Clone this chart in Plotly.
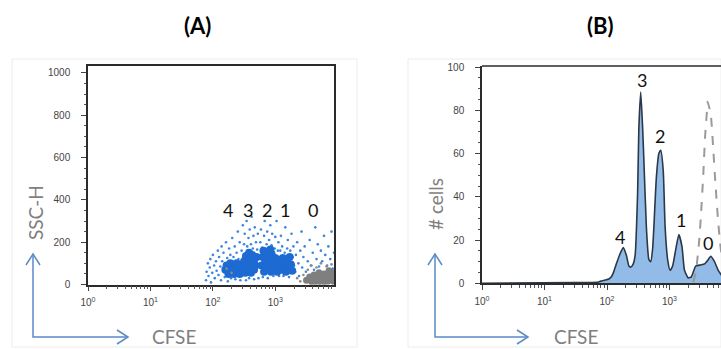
import numpy as np
import plotly.graph_objects as go

W, H = 721, 349

# ---------------- Panel A: CFSE vs SSC-H dot plot ----------------
# CFSE given in log10 decades, SSC-H in linear units
a_blue_core_cfse_log10 = [2.20, 2.22, 2.25, 2.28, 2.28, 2.31, 2.33, 2.36, 2.38, 2.40, 2.42, 2.45, 2.47, 2.25, 2.34, 2.43,
                          2.50, 2.53, 2.53, 2.56, 2.56, 2.58, 2.60, 2.60, 2.63, 2.63, 2.66, 2.66, 2.68, 2.70, 2.52, 2.61,
                          2.78, 2.80, 2.82, 2.84, 2.85, 2.87, 2.89, 2.91, 2.93, 2.94, 2.96, 2.98, 3.00, 3.02, 2.81, 2.92, 3.03,
                          3.08, 3.10, 3.12, 3.14, 3.17, 3.18, 3.21, 3.23, 3.25, 3.27]
a_blue_core_ssc = [70, 90, 60, 80, 100, 65, 88, 75, 100, 60, 85, 70, 95, 50, 50, 50,
                   110, 80, 135, 100, 60, 150, 120, 80, 100, 140, 70, 115, 90, 130, 55, 55,
                   90, 130, 60, 110, 155, 80, 130, 100, 60, 145, 115, 80, 125, 95, 160, 165, 60,
                   100, 70, 125, 90, 60, 110, 80, 130, 95, 65]

a_blue_sparse_cfse_log10 = [1.89, 1.90, 1.92, 1.93, 1.95, 1.96, 1.97, 1.99, 2.00, 2.02, 2.03, 2.05, 2.06, 2.08, 2.09, 2.10, 2.12, 2.13, 2.14, 2.15,
                            2.17, 2.19, 2.21, 2.23, 2.24, 2.26, 2.28, 2.29, 2.31, 2.33, 2.35, 2.36, 2.38, 2.40, 2.41, 2.43, 2.44, 2.46, 2.48, 2.49,
                            2.50, 2.51, 2.53, 2.54, 2.55, 2.57, 2.58, 2.59, 2.61, 2.62, 2.64, 2.65, 2.66, 2.67, 2.69, 2.71, 2.72, 2.73, 2.74,
                            2.76, 2.77, 2.79, 2.80, 2.82, 2.83, 2.86, 2.87, 2.88, 2.90, 2.92, 2.94, 2.95, 2.97, 2.99, 3.00, 3.02, 3.04, 3.05, 3.06,
                            3.08, 3.09, 3.11, 3.13, 3.15, 3.16, 3.19, 3.20, 3.22, 3.24, 3.26, 3.28, 3.29, 3.30,
                            3.32, 3.33, 3.35, 3.37, 3.38, 3.40, 3.42, 3.43, 3.45, 3.47, 3.49, 3.52, 3.55, 3.57, 3.60, 3.62, 3.64, 3.66, 3.68, 3.70,
                            3.73, 3.75, 3.78, 3.80, 3.83, 3.85, 3.88, 3.90, 3.92, 3.94]
a_blue_sparse_ssc = [20, 60, 100, 40, 80, 120, 10, 55, 140, 90, 30, 110, 65, 160, 45, 130, 85, 20, 180, 110,
                     150, 35, 200, 125, 15, 170, 140, 30, 220, 130, 180, 25, 150, 250, 120, 200, 20, 160, 280, 130,
                     190, 240, 20, 300, 180, 220, 30, 260, 190, 320, 170, 230, 25, 270, 200, 165, 240, 30, 120,
                     200, 260, 175, 35, 230, 300, 190, 250, 30, 210, 280, 185, 240, 40, 170, 225, 300, 160, 200, 40,
                     160, 230, 180, 40, 150, 270, 170, 210, 35, 160, 240, 130, 180, 90,
                     60, 140, 200, 100, 40, 160, 250, 80, 130, 180, 60, 110, 210, 90, 150, 70, 270, 120, 190, 85,
                     160, 110, 230, 140, 90, 180, 120, 250, 75, 150]

a_gray_core_cfse_log10 = [3.50, 3.55, 3.58, 3.62, 3.65, 3.68, 3.70, 3.72, 3.75, 3.78, 3.80, 3.82, 3.85, 3.88, 3.90, 3.92, 3.94, 3.60, 3.75, 3.86]
a_gray_core_ssc = [20, 35, 15, 45, 25, 10, 55, 35, 20, 50, 30, 10, 40, 20, 55, 30, 12, 5, 5, 65]
a_gray_sparse_cfse_log10 = [3.35, 3.40, 3.45, 3.52, 3.58, 3.66, 3.73, 3.82, 3.90, 3.95, 2.22, 2.30]
a_gray_sparse_ssc = [30, 15, 45, 70, 90, 80, 100, 85, 95, 60, 75, 55]

# ---------------- Panel B: CFSE histogram ----------------
b_cfse_log10 = [0.00, 1.48, 1.85, 1.90, 1.97, 2.03, 2.07, 2.11, 2.15, 2.20, 2.26, 2.31, 2.35, 2.38, 2.42, 2.45,
                2.49, 2.51, 2.54, 2.57, 2.59, 2.63, 2.67, 2.70, 2.73, 2.75, 2.79, 2.83, 2.86, 2.90, 2.93, 2.97,
                3.01, 3.05, 3.09, 3.15, 3.20, 3.24, 3.30, 3.35, 3.42, 3.50, 3.56, 3.62, 3.66, 3.72, 3.78, 3.85]
b_cells = [0, 0.3, 0.5, 1.0, 1.5, 2.0, 3.0, 5.5, 9, 13, 16.5, 13, 8, 7.5, 9, 13,
           42, 72, 88.5, 72, 57, 26, 11, 10, 16, 26, 49, 60, 61.5, 52, 26, 11,
           6, 8, 14, 22.5, 17, 6, 2.5, 3, 8, 8.5, 9, 11, 12.5, 10, 6, 3]

b_ctrl_cfse_log10 = [3.38, 3.42, 3.47, 3.50, 3.54, 3.57, 3.60, 3.61, 3.66, 3.70, 3.74, 3.78, 3.82, 3.88]
b_ctrl_cells = [0.5, 5, 18, 30, 50, 68, 80, 84, 78, 62, 44, 28, 16, 5]

division_labels = ["4", "3", "2", "1", "0"]
a_label_cfse_log10 = [2.25, 2.57, 2.87, 3.16, 3.61]
a_label_ssc = [352, 352, 352, 352, 352]
b_label_cfse_log10 = [2.21, 2.56, 2.85, 3.18, 3.62]
b_label_cells = [21.5, 94, 68, 29.3, 18.6]

x_tick_vals = [1, 10, 100, 1000]
x_tick_text = ["10<sup>0</sup>", "10<sup>1</sup>", "10<sup>2</sup>", "10<sup>3</sup>"]
x_minor_vals = [m * 10 ** d for d in range(4) for m in range(2, 10)]


def lin(v):
    return [10 ** t for t in v]


fig = go.Figure()

# Panel A traces
fig.add_trace(go.Scatter(x=lin(a_blue_sparse_cfse_log10), y=a_blue_sparse_ssc, mode="markers",
                         marker=dict(size=2.6, color="#3a86e0", line=dict(width=0)),
                         xaxis="x", yaxis="y", showlegend=False, hoverinfo="skip"))
fig.add_trace(go.Scatter(x=lin(a_blue_core_cfse_log10), y=a_blue_core_ssc, mode="markers",
                         marker=dict(size=8, color="#1d6ad2", line=dict(width=0)),
                         xaxis="x", yaxis="y", showlegend=False, hoverinfo="skip"))
fig.add_trace(go.Scatter(x=lin(a_gray_sparse_cfse_log10), y=a_gray_sparse_ssc, mode="markers",
                         marker=dict(size=2.6, color="#8a8a8a", line=dict(width=0)),
                         xaxis="x", yaxis="y", showlegend=False, hoverinfo="skip"))
fig.add_trace(go.Scatter(x=lin(a_gray_core_cfse_log10), y=a_gray_core_ssc, mode="markers",
                         marker=dict(size=7, color="#7f7f7f", line=dict(width=0)),
                         xaxis="x", yaxis="y", showlegend=False, hoverinfo="skip"))

# Panel B traces
fig.add_trace(go.Scatter(x=lin(b_cfse_log10), y=b_cells, mode="lines", fill="tozeroy",
                         fillcolor="#93bbe8",
                         line=dict(color="#2a3848", width=1.6, shape="spline", smoothing=0.5),
                         xaxis="x2", yaxis="y2", showlegend=False, hoverinfo="skip"))
fig.add_trace(go.Scatter(x=lin(b_ctrl_cfse_log10), y=b_ctrl_cells, mode="lines",
                         line=dict(color="#9a9a9a", width=2, dash="dash", shape="spline", smoothing=0.6),
                         xaxis="x2", yaxis="y2", showlegend=False, hoverinfo="skip"))

tick_font = dict(family="Liberation Sans, Arial", size=10, color="#444444")

common_x = dict(type="log", tickmode="array", tickvals=x_tick_vals, ticktext=x_tick_text,
                ticks="outside", ticklen=5, tickcolor="#444", tickwidth=1, tickfont=tick_font,
                showgrid=False, zeroline=False, showline=True, linecolor="#2b2b2b", linewidth=1.5,
                ticklabelstandoff=3, automargin=False,
                minor=dict(tickmode="array", tickvals=x_minor_vals, ticks="outside", ticklen=2.5,
                           tickcolor="#555", showgrid=False))
common_y = dict(ticks="outside", ticklen=5, tickcolor="#444", tickwidth=1, tickfont=tick_font,
                showgrid=False, zeroline=False, showline=True, linecolor="#2b2b2b", linewidth=1.5,
                ticklabelstandoff=9, automargin=False)

fig.update_layout(
    width=W, height=H, margin=dict(l=0, r=0, t=0, b=0, autoexpand=False),
    paper_bgcolor="white", plot_bgcolor="white",
    xaxis=dict(common_x, domain=[88 / W, 334 / W], range=[0, 3.94], anchor="y", mirror=True),
    yaxis=dict(common_y, domain=[1 - 284.5 / H, 1 - 65.7 / H], range=[0, 1034], anchor="x", mirror=True,
               tickmode="array", tickvals=[0, 200, 400, 600, 800, 1000],
               minor=dict(dtick=50, ticks="outside", ticklen=2.5, tickcolor="#555", showgrid=False)),
    xaxis2=dict(common_x, domain=[482 / W, 1.0], range=[0, 3.824], anchor="y2"),
    yaxis2=dict(common_y, domain=[1 - 283.3 / H, 1 - 66 / H], range=[0, 100.5], anchor="x2",
                tickmode="array", tickvals=[0, 20, 40, 60, 80, 100],
                minor=dict(dtick=5, ticks="outside", ticklen=2.5, tickcolor="#555", showgrid=False)),
)


def px(x):
    return x / W


def py(y):
    return 1 - y / H


shapes = []
# faint image frames around each panel
for x0, x1 in [(12, 357), (408, 721)]:
    shapes.append(dict(type="rect", xref="paper", yref="paper", x0=px(x0), x1=px(x1), y0=py(347), y1=py(59),
                       line=dict(color="#ececec", width=1), layer="below"))
# top border of panel B plot frame
shapes.append(dict(type="line", xref="x2 domain", yref="y2 domain", x0=0, x1=1, y0=1, y1=1,
                   line=dict(color="#2b2b2b", width=1.5)))
# blue axis arrows
arrow_col = "#5b8ac6"
for ax0, ax1 in [(33, 128), (435, 528)]:
    yb, yt = 337, 254
    shapes.append(dict(type="path", xref="paper", yref="paper",
                       path=f"M {px(ax0)} {py(yt)} L {px(ax0)} {py(yb)} L {px(ax1)} {py(yb)}",
                       line=dict(color=arrow_col, width=1.5)))
    shapes.append(dict(type="path", xref="paper", yref="paper",
                       path=f"M {px(ax0 - 7)} {py(yt + 11)} L {px(ax0)} {py(yt)} L {px(ax0 + 7)} {py(yt + 11)}",
                       line=dict(color=arrow_col, width=1.5)))
    shapes.append(dict(type="path", xref="paper", yref="paper",
                       path=f"M {px(ax1 - 11)} {py(yb - 7)} L {px(ax1)} {py(yb)} L {px(ax1 - 11)} {py(yb + 7)}",
                       line=dict(color=arrow_col, width=1.5)))
fig.update_layout(shapes=shapes)

ann = []
C = dict(xanchor="center", yanchor="middle", showarrow=False)
label_font = dict(family="Lato, Open Sans, sans-serif", size=19, color="#7f7f7f")
ann.append(dict(C, text="<b>(A)</b>", x=px(197), y=py(26), xref="paper", yref="paper",
                font=dict(family="Lato, sans-serif", size=22, color="black")))
ann.append(dict(C, text="<b>(B)</b>", x=px(600), y=py(26), xref="paper", yref="paper",
                font=dict(family="Lato, sans-serif", size=22, color="black")))
ann.append(dict(C, text="SSC-H", x=px(35), y=py(213), xref="paper", yref="paper",
                textangle=-90, font=label_font))
ann.append(dict(C, text="# cells", x=px(435), y=py(204), xref="paper", yref="paper",
                textangle=-90, font=label_font))
ann.append(dict(C, text="CFSE", x=px(174), y=py(336), xref="paper", yref="paper", font=label_font))
ann.append(dict(C, text="CFSE", x=px(576), y=py(336), xref="paper", yref="paper", font=label_font))

num_font = dict(family="Lato, Open Sans, sans-serif", size=18, color="#111111")
for lab, lx, ly in zip(division_labels, a_label_cfse_log10, a_label_ssc):
    ann.append(dict(C, text=lab, x=lx, y=ly, xref="x", yref="y", font=num_font))
for lab, lx, ly in zip(division_labels, b_label_cfse_log10, b_label_cells):
    ann.append(dict(C, text=lab, x=lx, y=ly, xref="x2", yref="y2", font=num_font))
fig.update_layout(annotations=ann)

fig.write_html("out.html", config={"displayModeBar": False},
               post_script="document.body.style.margin='0';document.body.style.overflow='hidden';")
